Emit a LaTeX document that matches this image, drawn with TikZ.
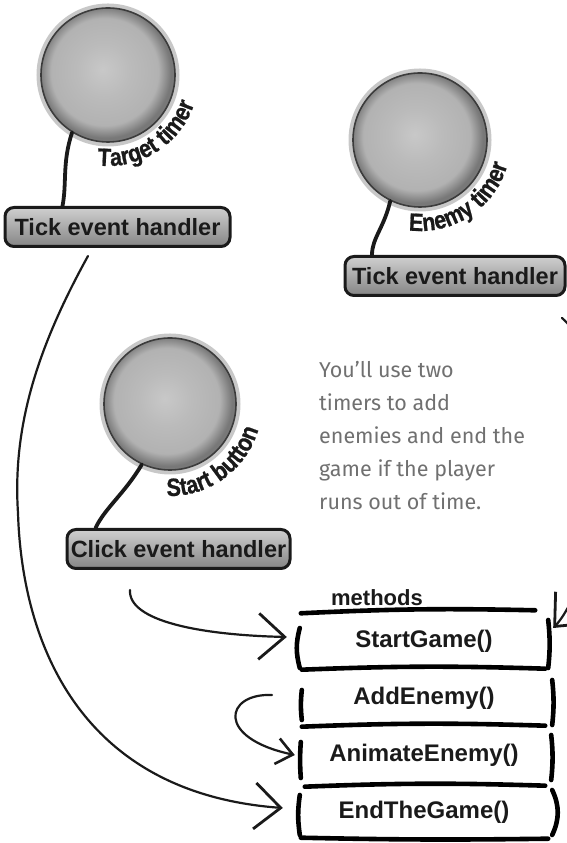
\documentclass[tikz,border=0pt]{standalone}
\usepackage{fontspec}
\setmainfont{Liberation Sans}
\newfontfamily\notefont{Fira Sans}
\newfontfamily\arcfont[FakeBold=0.8,FakeStretch=0.86]{Liberation Sans Bold}
\usetikzlibrary{arrows.meta,decorations.text,shadings}

\definecolor{inkblack}{HTML}{1A1A1A}
\definecolor{halogray}{HTML}{C8C8C8}
\definecolor{notegray}{HTML}{707070}
\definecolor{ballLight}{HTML}{C8C8C8}
\definecolor{ballMid}{HTML}{B2B2B2}
\definecolor{ballDark}{HTML}{787878}
\definecolor{btnTop}{HTML}{CFCFCF}
\definecolor{btnMid}{HTML}{A4A4A4}
\definecolor{btnBot}{HTML}{858585}

% soft grey ball for the timers and the button
\pgfdeclareradialshading{ballshade}{\pgfpoint{-2bp}{2bp}}{%
  color(0bp)=(ballLight); color(10bp)=(ballMid!60!ballLight);
  color(20bp)=(ballMid); color(24.5bp)=(ballDark); color(50bp)=(ballDark)}

\tikzset{
  ball/.style={circle, minimum size=#1, inner sep=0pt, shading=ballshade,
    draw=inkblack!85, line width=1.6pt,
    preaction={draw=halogray, line width=9pt}},
  handler/.style={draw=inkblack, line width=3pt, rounded corners=9pt,
    top color=btnTop, middle color=btnMid, bottom color=btnBot,
    font=\bfseries\fontsize{23.5}{23.5}\selectfont, text=inkblack,
    minimum height=39pt, inner xsep=2pt},
  stemline/.style={draw=inkblack, line width=3.8pt, line cap=round},
  rough/.style={draw=black, line width=4.6pt, line cap=round},
  rowbox/.style={minimum width=248pt, minimum height=57pt, inner sep=0pt,
    font=\bfseries\fontsize{24}{24}\selectfont, text=inkblack},
  link/.style={draw=inkblack, line width=2.2pt, line cap=round},
  bigbarb/.style={-{Straight Barb[length=26pt,width=46pt,line width=2.8pt]}},
  smallbarb/.style={-{Straight Barb[length=16pt,width=26pt,line width=2.6pt]}},
  arclabel/.style={decorate,
    decoration={text along path, text align=center, text color=inkblack,
    text={|\arcfont\fontsize{25}{25}\selectfont|#1}}},
  note/.style={align=left, anchor=north west, inner sep=0pt, text=notegray,
    font=\notefont\fontsize{21.5}{33}\selectfont}
}

\begin{document}
\begin{tikzpicture}[x=1pt,y=1pt]
\path[use as bounding box] (0,0) rectangle (567,843);
\clip (0,0) rectangle (567,843);

% ---- Target timer ----
\node[ball=134pt] (tt) at (108,768) {};
\node[handler, minimum width=225pt] (th) at (117.5,616) {Tick event handler};
\draw[stemline] (tt.238) .. controls (62,680) and (67,660) .. ([xshift=-55pt]th.north);
\path[arclabel={Target timer}] (tt.center) ++(-122:91) arc[start angle=-122, end angle=7, radius=91];

% ---- Enemy timer ----
\node[ball=134pt] (et) at (420,703) {};
\node[handler, minimum width=220pt] (eh) at (455,567) {Tick event handler};
\draw[stemline] (et.244) .. controls (384,615) and (372,605) .. ([xshift=-83pt]eh.north);
\path[arclabel={Enemy timer}] (et.center) ++(-122:91) arc[start angle=-122, end angle=9, radius=91];

% ---- Start button ----
\node[ball=132pt] (sb) at (170,439) {};
\node[handler, minimum width=223pt] (ch) at (178.5,294) {Click event handler};
\draw[stemline] (sb.245) .. controls (125,350) and (105,335) .. ([xshift=-83pt]ch.north);
\path[arclabel={Start button}] (sb.center) ++(-118:92) arc[start angle=-118, end angle=10, radius=92];

% ---- handwritten remark ----
\node[note] (remark) at (319,482) {You’ll use two\\timers to add\\enemies and end the\\game if the player\\runs out of time.};

% ---- methods list ----
\node[anchor=base, font=\bfseries\fontsize{22}{22}\selectfont, text=inkblack] (mlabel) at (377,237) {methods};
\node[rowbox] (r1) at (424,202) {StartGame()};
\node[rowbox] (r2) at (424,145) {AddEnemy()};
\node[rowbox] (r3) at (424,88) {AnimateEnemy()};
\node[rowbox] (r4) at (424,31) {EndTheGame()};

% horizontal rules
\draw[rough] ([xshift=1pt,yshift=-1pt]r1.north west) to[bend left=2] ([xshift=-13pt,yshift=2pt]r1.north east);
\draw[rough] ([xshift=2pt,yshift=0pt]r1.south west) to[bend left=2] ([xshift=-3pt,yshift=1pt]r1.south east);
\draw[rough] ([xshift=2pt,yshift=0pt]r2.south west) to[bend left=2] ([xshift=-3pt,yshift=1pt]r2.south east);
\draw[rough] ([xshift=5pt,yshift=-3pt]r3.south west) to[bend left=2] ([xshift=-3pt,yshift=-2pt]r3.south east);
\draw[rough] ([xshift=1pt,yshift=3pt]r4.south west) to[bend right=1] ([xshift=0pt,yshift=2pt]r4.south east);

% left brackets
\draw[rough] ([yshift=13pt]r1.west) to[bend right=15] ([yshift=-27pt]r1.west);
\draw[rough] ([xshift=2pt,yshift=8pt]r2.west) to[bend right=6] ([xshift=2pt,yshift=-22pt]r2.west);
\draw[rough] ([xshift=1pt,yshift=13pt]r3.west) to[bend right=4] ([xshift=1pt,yshift=-23pt]r3.west);
\draw[rough] ([yshift=17pt]r4.west) to[bend right=8] ([yshift=-23pt]r4.west);

% right brackets
\draw[rough] ([yshift=21pt]r1.east) to[bend left=6] ([yshift=-27pt]r1.east);
\draw[rough] ([xshift=4pt,yshift=18pt]r2.east) to[bend left=6] ([xshift=4pt,yshift=-27pt]r2.east);
\draw[rough] ([xshift=3pt,yshift=20pt]r3.east) to[bend left=6] ([xshift=3pt,yshift=-25pt]r3.east);
\draw[rough] ([xshift=4pt,yshift=22pt]r4.east) to[bend left=25] ([xshift=4pt,yshift=-23pt]r4.east);

% ---- calls between handlers and methods ----
\coordinate (s1) at (88,587);
\coordinate (s2) at (130,253);
\coordinate (s3) at (272,148);
\coordinate (s4) at (562,525);

\draw[link, bigbarb] (s1) .. controls (40,500) and (12,420) .. (18,330)
  .. controls (22,200) and (80,50) .. ([xshift=-17pt,yshift=4pt]r4.west);
\draw[link, bigbarb] (s2) .. controls (128,222) and (200,208) .. ([xshift=-13pt,yshift=4pt]r1.west);
\draw[link, smallbarb] (s3) .. controls (225,150) and (215,105) .. ([xshift=-5pt]r3.west);
\draw[link, bigbarb] (s4) .. controls (625,470) and (600,265) .. ([xshift=5pt,yshift=13pt]r1.east);
\end{tikzpicture}
\end{document}
